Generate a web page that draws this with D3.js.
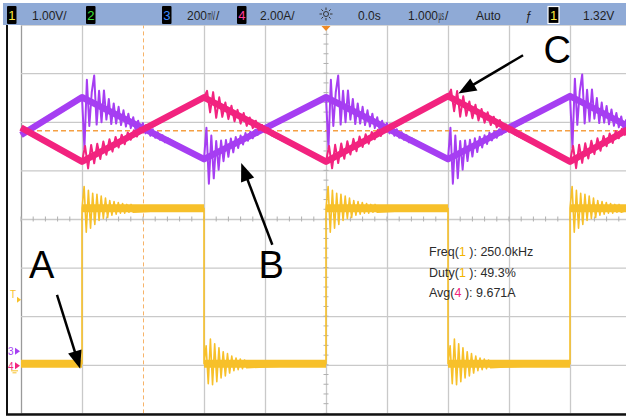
<!DOCTYPE html>
<html>
<head>
<meta charset="utf-8">
<script src="https://cdn.jsdelivr.net/npm/d3@7"></script>
<style>
  body { margin: 0; background: #fff; }
  svg { display: block; font-family: "Liberation Sans", Arial, sans-serif; }
</style>
</head>
<body>
<div class="container"></div>
<script>
// scope screen, 10 x 8 divisions

var timeTicks = [-5, -4, -3, -2, -1, 0, 1, 2, 3, 4, 5];   // us, 1 us/div
var divTicks = [-4, -3, -2, -1, 0, 1, 2, 3, 4];

// channel 1 (V, 1.00 V/div) - switch node square wave
var ch1Times = [-5, -4, -4, -2, -2, 0, 0, 2, 2, 4, 4, 5];
var ch1Volts = [0, 0, 3.2, 3.2, 0, 0, 3.2, 3.2, 0, 0, 3.2, 3.2];
var ch1Rise = [-4, 0, 4];
var ch1Fall = [-2, 2];
var ch1RiseRing = [0, 0.45, -0.49, 0.37, -0.41, 0.31, -0.33, 0.29, -0.25, 0.25, -0.21, 0.21, -0.19, 0.16, -0.14, 0.14, -0.12, 0.12, -0.10, 0.10, -0.10, 0.08, -0.08, 0.08, -0.08];
var ch1FallRing = [0, 0.37, -0.41, 0.51, -0.43, 0.41, -0.37, 0.33, -0.29, 0.25, -0.25, 0.21, -0.19, 0.16, -0.14, 0.12, -0.12, 0.10, -0.10, 0.08, -0.08];

// channel 3 (V, 200 mV/div)
var ch3Times = [-5, -4, -2, 0, 2, 4, 5];
var ch3Volts = [0.89, 1.045, 0.79, 1.045, 0.79, 1.05, 0.92];
var ch3Peaks = [-4, 0, 4];
var ch3Troughs = [-2, 2];
var ch3PeakRing = [0, -0.206, 0.082, -0.103, 0.041, 0.115, -0.082, 0.062, -0.062, 0.074, -0.041, 0.049, -0.049, 0.041, -0.037, 0.037, -0.033, 0.033, -0.029, 0.029, -0.025, 0.025, -0.025, 0.021, -0.021, 0.021, -0.016, 0.016, -0.016, 0.016, -0.014, 0.014, -0.012, 0.012, -0.012, 0.010];
var ch3TroughRing = [0, 0.124, -0.111, 0.082, -0.099, 0.049, -0.074, 0.041, -0.049, 0.033, -0.041, 0.029, -0.033, 0.025, -0.025, 0.021, -0.021, 0.021, -0.016, 0.016, -0.016, 0.014, -0.012, 0.012, -0.010];

// channel 4 (A, 2.00 A/div)
var ch4Times = [-5, -4, -2, 0, 2, 4, 5];
var ch4Amps = [9.8, 8.4, 11.05, 8.4, 11.1, 8.4, 9.8];
var ch4Peaks = [-2, 2];
var ch4Troughs = [-4, 0, 4];
var ch4PeakRing = [0, 0.33, -0.49, 0.41, -0.58, 0.33, -0.41, 0.25, -0.37, 0.25, -0.33, 0.21, -0.29, 0.21, -0.25, 0.16, -0.21, 0.16, -0.16, 0.12, -0.12, 0.12, -0.10];
var ch4TroughRing = [0, 0.58, -0.41, 0.49, -0.33, 0.41, -0.29, 0.37, -0.25, 0.33, -0.25, 0.29, -0.21, 0.25, -0.21, 0.21, -0.16, 0.16, -0.16, 0.12, -0.12, 0.12, -0.10];
var ch4Avg = 9.671;

var trigLevel = 1.32;
var cursorTime = -3;

// status bar
var barItems = ['1.00V/', '2.00A/', '0.0s', 'Auto', '1.32V'];
var measNames = ['Freq(', 'Duty(', 'Avg('];
var measChans = ['1', '1', '4'];
var measValues = ['250.0kHz', '49.3%', '9.671A'];

// callouts (time us, divisions)
var callouts = [
  { label: 'A', lx: -4.66, ly: -1.21, from: [-4.41, -1.56], to: [-4.03, -3.08] },
  { label: 'B', lx: -0.90, ly: -1.21, from: [-0.88, -0.53], to: [-1.39, 1.15] },
  { label: 'C', lx: 3.79, ly: 3.22, from: [3.23, 3.37], to: [2.17, 2.58] }
];

var colors = { ch1: '#F7C02A', ch3: '#A63EF2', ch4: '#F2237F', orange: '#F5A043', grid: '#c9c9c9' };

var svg = d3.select('.container').append('svg')
  .attr('width', 626).attr('height', 417);

var x = d3.scaleLinear().domain([-5, 5]).range([21, 631]);
var yDiv = d3.scaleLinear().domain([-4, 4]).range([413.4, 24.6]);

var ch1Off = -2.98, ch3Off = -2.72, ch4Off = -3.02;
var y1 = function(v) { return yDiv(ch1Off + v / 1.0); };
var y3 = function(v) { return yDiv(ch3Off + v / 0.2); };
var y4 = function(v) { return yDiv(ch4Off + v / 2.0); };

// grid
var plotH = yDiv(-4) - yDiv(4);
var gx = svg.append('g')
  .attr('transform', 'translate(0,' + yDiv(-4) + ')')
  .call(d3.axisBottom(x).tickValues(timeTicks).tickSize(-plotH).tickFormat(''));
var gy = svg.append('g')
  .attr('transform', 'translate(' + x(-5) + ',0)')
  .call(d3.axisLeft(yDiv).tickValues(divTicks).tickSize(-(x(5) - x(-5))).tickFormat(''));
[gx, gy].forEach(function(g) {
  g.select('.domain').remove();
  g.selectAll('.tick line').attr('stroke', colors.grid).attr('stroke-width', 1.3);
});
gx.selectAll('.tick line').filter(function(d) { return d === -5; }).attr('stroke', '#9a9a9a');
gx.selectAll('.tick line').filter(function(d) { return d === cursorTime; })
  .attr('stroke', colors.orange).attr('stroke-dasharray', '4,3').attr('stroke-width', 1)
  .attr('stroke-opacity', 0.8);

// minor ticks on the centre lines
var minor = svg.append('g').attr('stroke', '#b0b0b0').attr('stroke-width', 1);
minor.selectAll('.mx').data(d3.range(-50, 51, 2).map(function(d) { return d / 10; }))
  .enter().append('line')
  .attr('x1', function(d) { return x(d); }).attr('x2', function(d) { return x(d); })
  .attr('y1', yDiv(0) - 2.5).attr('y2', yDiv(0) + 2.5);
minor.selectAll('.my').data(d3.range(-40, 41, 2).map(function(d) { return d / 10; }))
  .enter().append('line')
  .attr('y1', function(d) { return yDiv(d); }).attr('y2', function(d) { return yDiv(d); })
  .attr('x1', x(0) - 2.5).attr('x2', x(0) + 2.5);

// avg level of ch4
svg.append('line')
  .attr('x1', x(-5)).attr('x2', x(5))
  .attr('y1', y4(ch4Avg)).attr('y2', y4(ch4Avg))
  .attr('stroke', colors.orange).attr('stroke-width', 1.3).attr('stroke-dasharray', '5,3');

// build traces
function ringPoints(base, events, ring, step) {
  var pts = [];
  events.forEach(function(e) {
    ring.forEach(function(r, i) {
      if (i === 0) return;
      var t = e + i * step;
      if (t > 5) return;
      pts.push([t, base(t, e) + r]);
    });
  });
  return pts;
}
function byTime(a, b) { return a[0] - b[0]; }

var ch1Clean = ch1Times.map(function(t, i) { return [t, ch1Volts[i]]; });
var ch1Pts = ch1Clean
  .concat(ringPoints(function() { return 3.2; }, ch1Rise, ch1RiseRing, 0.035))
  .concat(ringPoints(function() { return 0; }, ch1Fall, ch1FallRing, 0.035))
  .sort(byTime);

var ch3Base = d3.scaleLinear().domain(ch3Times).range(ch3Volts);
var ch3Clean = ch3Times.map(function(t, i) { return [t, ch3Volts[i]]; });
var ch3Pts = ch3Clean
  .concat(ringPoints(ch3Base, ch3Peaks, ch3PeakRing, 0.04))
  .concat(ringPoints(ch3Base, ch3Troughs, ch3TroughRing, 0.04))
  .sort(byTime);

var ch4Base = d3.scaleLinear().domain(ch4Times).range(ch4Amps);
var ch4Clean = ch4Times.map(function(t, i) { return [t, ch4Amps[i]]; });
var ch4Pts = ch4Clean
  .concat(ringPoints(ch4Base, ch4Peaks, ch4PeakRing, 0.05))
  .concat(ringPoints(ch4Base, ch4Troughs, ch4TroughRing, 0.05))
  .sort(byTime);

var traces = svg.append('g').attr('fill', 'none').attr('stroke-linejoin', 'round');

// ch1: thick noisy levels, thin edges
var ch1Levels = d3.pairs(ch1Clean).filter(function(p) { return p[0][0] !== p[1][0]; });
traces.selectAll('.ch1band').data(ch1Levels).enter().append('line')
  .attr('x1', function(p) { return x(p[0][0]); })
  .attr('x2', function(p) { return x(p[1][0]); })
  .attr('y1', function(p) { return y1(p[0][1]); })
  .attr('y2', function(p) { return y1(p[1][1]); })
  .attr('stroke', colors.ch1).attr('stroke-width', 8);
traces.append('path')
  .attr('d', d3.line().x(function(d) { return x(d[0]); }).y(function(d) { return y1(d[1]); })(ch1Pts))
  .attr('stroke', colors.ch1).attr('stroke-width', 1.6);

function drawTrace(clean, pts, yf, color) {
  var line = d3.line().x(function(d) { return x(d[0]); }).y(function(d) { return yf(d[1]); });
  traces.append('path').attr('d', line(clean)).attr('stroke', color).attr('stroke-width', 6.5);
  traces.append('path').attr('d', line(pts)).attr('stroke', color).attr('stroke-width', 2);
}
drawTrace(ch3Clean, ch3Pts, y3, colors.ch3);
drawTrace(ch4Clean, ch4Pts, y4, colors.ch4);

// frame
svg.append('line').attr('x1', 7).attr('x2', 7).attr('y1', 24).attr('y2', 415)
  .attr('stroke', '#111').attr('stroke-width', 2);
svg.append('line').attr('x1', 6).attr('x2', 626).attr('y1', 414.5).attr('y2', 414.5)
  .attr('stroke', '#111').attr('stroke-width', 2.5);

// left-side markers
var marks = svg.append('g').attr('font-size', 10);
marks.append('text').attr('x', 10).attr('y', y1(trigLevel) - 2).attr('fill', colors.ch1).text('T');
marks.append('path').attr('d', 'M17,' + (y1(trigLevel) - 3) + 'l4,3l-4,3z').attr('fill', colors.ch1);
marks.append('text').attr('x', 8).attr('y', y3(0) + 4).attr('fill', colors.ch3).text('3');
marks.append('path').attr('d', 'M15,' + (y3(0) - 3.5) + 'l5,3.5l-5,3.5z').attr('fill', colors.ch3);
marks.append('text').attr('x', 8).attr('y', y4(0) + 4).attr('fill', colors.ch4).text('4');
marks.append('path').attr('d', 'M15,' + (y4(0) - 3.5) + 'l5,3.5l-5,3.5z').attr('fill', colors.ch4);
marks.append('path').attr('d', 'M11,' + (y1(0) + 7) + 'h7M12.5,' + (y1(0) + 9) + 'h4')
  .attr('stroke', colors.ch1).attr('stroke-width', 1);

// trigger position
svg.append('path').attr('d', 'M' + (x(0) - 4.5) + ',26l9,0l-4.5,5z').attr('fill', '#F08A24');

// status bar
var bar = svg.append('g').attr('font-size', 12).attr('fill', '#1f1f1f');
bar.append('rect').attr('x', 3).attr('y', 3).attr('width', 623).attr('height', 22).attr('fill', '#8FAAD6');

var boxes = [
  { x: 7, t: '1', c: '#FFE83A' },
  { x: 86, t: '2', c: '#3BE03B' },
  { x: 162, t: '3', c: '#3D8BFF' },
  { x: 237, t: '4', c: '#FF3C9E' }
];
boxes.forEach(function(b) {
  bar.append('rect').attr('x', b.x).attr('y', 6).attr('width', 9.5).attr('height', 18).attr('fill', '#000').attr('rx', 1);
  bar.append('text').attr('x', b.x + 4.75).attr('y', 20).attr('text-anchor', 'middle')
    .attr('fill', b.c).attr('font-size', 13).text(b.t);
});
bar.append('rect').attr('x', 548).attr('y', 6.5).attr('width', 11).attr('height', 17)
  .attr('fill', '#000').attr('stroke', '#fff').attr('stroke-width', 1.2);
bar.append('text').attr('x', 553.5).attr('y', 20).attr('text-anchor', 'middle')
  .attr('fill', '#FFE83A').attr('font-size', 13).text('1');

// unit glyphs squeezed into one character cell, as on the scope
function unitText(x0, num, unit) {
  var t = bar.append('text').attr('x', x0).attr('y', 19.5).text(num);
  var w = t.node().getComputedTextLength();
  var u = bar.append('text')
    .attr('transform', 'translate(' + (x0 + w + 0.5) + ',19.5) scale(0.42,1)')
    .text(unit);
  var uw = u.node().getComputedTextLength() * 0.42;
  bar.append('text').attr('x', x0 + w + uw + 1.5).attr('y', 19.5).text('/');
}

bar.append('text').attr('x', 32).attr('y', 19.5).text(barItems[0]);
unitText(187, '200', 'mV');
bar.append('text').attr('x', 260).attr('y', 19.5).text(barItems[1]);
bar.append('text').attr('x', 358).attr('y', 19.5).text(barItems[2]);
unitText(408, '1.000', 'µs');
bar.append('text').attr('x', 476).attr('y', 19.5).text(barItems[3]);
bar.append('text').attr('x', 525).attr('y', 19.5).attr('font-style', 'italic').text('ƒ');
bar.append('text').attr('x', 583).attr('y', 19.5).text(barItems[4]);

// run indicator (sun)
var sun = bar.append('g').attr('transform', 'translate(' + x(0) + ',14)')
  .attr('stroke', '#333').attr('stroke-width', 1);
sun.append('circle').attr('r', 2.5).attr('fill', 'none');
d3.range(8).forEach(function(i) {
  var a = i * Math.PI / 4;
  sun.append('line').attr('x1', Math.cos(a) * 4).attr('y1', Math.sin(a) * 4)
    .attr('x2', Math.cos(a) * 6.5).attr('y2', Math.sin(a) * 6.5);
});

// measurements
var meas = svg.append('g').attr('font-size', 12.5).attr('fill', '#2b2b2b');
measNames.forEach(function(n, i) {
  var t = meas.append('text').attr('x', 429).attr('y', 256 + i * 20.5);
  t.append('tspan').text(n);
  t.append('tspan').attr('fill', measChans[i] === '1' ? '#F2B400' : colors.ch4).text(measChans[i]);
  t.append('tspan').text(' ): ' + measValues[i]);
});

// callouts
var ann = svg.append('g');
callouts.forEach(function(c) {
  ann.append('text').attr('x', x(c.lx)).attr('y', yDiv(c.ly))
    .attr('text-anchor', 'middle').attr('font-size', 38).attr('fill', '#000').text(c.label);
  var x0 = x(c.from[0]), y0 = yDiv(c.from[1]), x1 = x(c.to[0]), y1p = yDiv(c.to[1]);
  var dx = x1 - x0, dy = y1p - y0, len = Math.sqrt(dx * dx + dy * dy);
  var ux = dx / len, uy = dy / len, hl = 18, hw = 7;
  var bx = x1 - ux * hl, by = y1p - uy * hl;
  ann.append('line').attr('x1', x0).attr('y1', y0).attr('x2', bx + ux * 2).attr('y2', by + uy * 2)
    .attr('stroke', '#000').attr('stroke-width', 2.5);
  ann.append('path')
    .attr('d', 'M' + x1 + ',' + y1p + 'L' + (bx - uy * hw) + ',' + (by + ux * hw) + 'L' + (bx + uy * hw) + ',' + (by - ux * hw) + 'Z')
    .attr('fill', '#000');
});
</script>
</body>
</html>
